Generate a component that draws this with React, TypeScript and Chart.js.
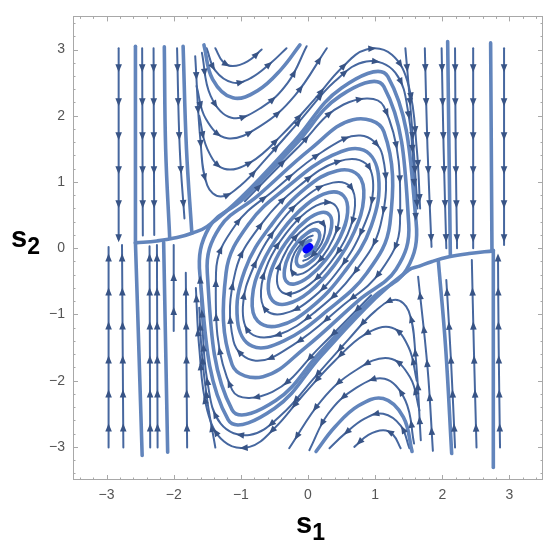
import React, { useEffect, useRef } from 'react';
import { Chart, registerables } from 'chart.js';

Chart.register(...registerables);

type Pt = [number, number];

// ---------- axes ----------
const axisRange: Pt = [-3.5, 3.5];
const xTickValues = [-3, -2, -1, 0, 1, 2, 3];
const yTickValues = [-3, -2, -1, 0, 1, 2, 3];
const fixedPoint: Pt[] = [[0, 0]];

// ---------- streamlines (flow order) ----------
const leftDownThin: Pt[][] = [
  [[-2.82, 3.02], [-2.82, 1.5], [-2.82, 0.14]],
  [[-2.47, 3.02], [-2.465, 1.5], [-2.46, 0.19]],
  [[-2.30, 3.02], [-2.295, 1.5], [-2.29, 0.2]],
  [[-1.95, 3.02], [-1.91, 1.5], [-1.84, 0.45]],
];
const leftDownThick: Pt[][] = [
  [[-2.57, 3.05], [-2.57, 0.08]],
  [[-2.14, 3.04], [-2.12, 1.5], [-2.06, 0.16]],
  [[-1.86, 3.05], [-1.81, 1.5], [-1.73, 0.23]],
];
const leftUpThin: Pt[][] = [
  [[-2.97, -3.01], [-2.97, -1.5], [-2.97, 0.02]],
  [[-2.75, -3.01], [-2.76, -1.5], [-2.77, 0.05]],
  [[-2.35, -3.01], [-2.355, -1.5], [-2.36, 0.03]],
  [[-2.24, -3.01], [-2.245, -1.5], [-2.25, 0.05]],
  [[-2.0, -1.25], [-2.0, 0.05]],
  [[-1.8, -3.01], [-1.81, -1.7], [-1.82, -0.37]],
  [[-1.38, -3.01], [-1.5, -2.3], [-1.58, -1.6], [-1.62, -0.9]],
];
const leftUpThick: Pt[][] = [
  [[-2.47, -3.13], [-2.52, -1.5], [-2.57, 0.08]],
  [[-2.09, -3.08], [-2.12, -1.5], [-2.15, 0.09]],
];
const rightDownThin: Pt[][] = [
  [[1.45, 3.02], [1.52, 2.2], [1.58, 1.4], [1.63, 0.6]],
  [[1.74, 3.02], [1.78, 1.5], [1.84, 0.02]],
  [[1.99, 3.02], [2.02, 1.5], [2.06, 0.0]],
  [[2.19, 3.02], [2.2, 1.5], [2.22, 0.0]],
  [[2.46, 3.02], [2.46, 1.5], [2.46, 0.0]],
  [[2.92, 3.02], [2.92, 1.5], [2.92, 0.05]],
];
const rightDownThick: Pt[][] = [
  [[2.08, 3.12], [2.1, 1.5], [2.12, -0.1]],
  [[2.72, 3.1], [2.74, -0.05]],
];
const rightUpThin: Pt[][] = [
  [[1.86, -3.06], [1.78, -1.8], [1.64, -0.43]],
  [[2.19, -3.01], [2.13, -1.7], [2.06, -0.48]],
  [[2.51, -3.01], [2.47, -1.5], [2.44, -0.18]],
  [[2.86, -3.01], [2.84, -1.5], [2.83, -0.13]],
];
const rightUpThick: Pt[][] = [
  [[2.14, -3.1], [2.05, -1.5], [1.94, -0.18]],
  [[2.76, -3.31], [2.76, -0.03]],
];
const upperUThin: Pt[][] = [
  [[-1.38, 3.02], [-1.27, 2.82], [-1.12, 2.75], [-0.9, 2.82], [-0.69, 3.0]],
  [[-1.51, 3.02], [-1.38, 2.68], [-1.12, 2.5], [-0.85, 2.57], [-0.55, 2.8], [-0.32, 3.02]],
  [[-1.58, 2.95], [-1.45, 2.3], [-1.14, 1.97], [-0.7, 2.12], [-0.3, 2.5], [-0.02, 3.05]],
  [[-1.66, 2.45], [-1.52, 1.95], [-1.2, 1.66], [-0.7, 1.85], [-0.2, 2.3], [0.28, 3.02]],
  [[-1.62, 2.0], [-1.5, 1.5], [-1.25, 1.2], [-0.85, 1.3], [-0.4, 1.7], [0.1, 2.25], [0.5, 2.72], [0.87, 3.0], [1.25, 2.92], [1.5, 2.45], [1.62, 1.5], [1.67, 0.6]],
  [[-1.68, 2.9], [-1.6, 1.6], [-1.5, 0.95], [-1.3, 0.78], [-1.0, 0.95], [-0.6, 1.38], [-0.1, 1.95], [0.4, 2.52], [0.87, 2.82], [1.3, 2.65], [1.5, 2.0], [1.58, 1.0], [1.62, 0.1]],
];
const upperUThick: Pt[][] = [
  [[-1.55, 3.07], [-1.42, 2.55], [-1.12, 2.27], [-0.75, 2.38], [-0.4, 2.7], [-0.12, 3.07]],
];
const lowerUThin: Pt[][] = [
  [[1.38, -3.02], [1.27, -2.82], [1.12, -2.75], [0.9, -2.82], [0.69, -3.0]],
  [[1.51, -3.02], [1.38, -2.68], [1.12, -2.5], [0.85, -2.57], [0.55, -2.8], [0.32, -3.02]],
  [[1.58, -2.95], [1.45, -2.3], [1.14, -1.97], [0.7, -2.12], [0.3, -2.5], [0.02, -3.05]],
  [[1.66, -2.45], [1.52, -1.95], [1.2, -1.66], [0.7, -1.85], [0.2, -2.3], [-0.28, -3.02]],
  [[1.62, -2.0], [1.5, -1.5], [1.25, -1.2], [0.85, -1.3], [0.4, -1.7], [-0.1, -2.25], [-0.5, -2.72], [-0.87, -3.0], [-1.25, -2.92], [-1.5, -2.45], [-1.62, -1.5], [-1.67, -0.6]],
  [[1.68, -2.9], [1.6, -1.6], [1.5, -0.95], [1.3, -0.78], [1.0, -0.95], [0.6, -1.38], [0.1, -1.95], [-0.4, -2.52], [-0.87, -2.82], [-1.3, -2.65], [-1.5, -2.0], [-1.58, -1.0], [-1.62, -0.1]],
];
const lowerUThick: Pt[][] = [
  [[1.55, -3.07], [1.42, -2.55], [1.12, -2.27], [0.75, -2.38], [0.4, -2.7], [0.12, -3.07]],
];
const spiralThick: Pt[][] = [
  [[-2.57, 0.08], [-2.25, 0.11], [-1.95, 0.16], [-1.72, 0.23],
   [-1.50, 0.33], [-1.00, 0.76], [-0.20, 1.62], [0.50, 2.42], [1.19, 2.59], [1.61, 0.40], [1.47, -0.32], [0.97, -0.74], [0.19, -1.56], [-0.48, -2.30], [-1.13, -2.44], [-1.50, -0.37],
   [-1.31, 0.32], [-0.75, 0.79], [0.04, 1.50], [0.67, 1.94], [1.13, 1.76], [1.22, 0.37], [0.88, -0.37], [0.29, -0.94], [-0.36, -1.40], [-0.83, -1.48], [-1.05, -1.09], [-0.94, -0.33],
   [-0.54, 0.36], [-0.03, 0.91], [0.435, 1.17], [0.75, 1.10], [0.83, 0.76], [0.69, 0.25], [0.39, -0.26], [0.02, -0.66], [-0.31, -0.84], [-0.53, -0.79], [-0.59, -0.54], [-0.48, -0.17],
   [-0.26, 0.18], [-0.015, 0.43], [0.20, 0.54], [0.33, 0.49], [0.35, 0.32], [0.28, 0.10], [0.15, -0.10], [0.008, -0.23], [-0.10, -0.28], [-0.165, -0.24], [-0.17, -0.15], [-0.13, -0.05],
   [-0.07, 0.05], [0.0, 0.10], [0.04, 0.12]],
  [[2.76, -0.04], [2.4, -0.08], [2.1, -0.13], [1.85, -0.2], [1.66, -0.27],
   [1.50, -0.33], [1.00, -0.76], [0.20, -1.62], [-0.50, -2.42], [-1.19, -2.59], [-1.61, -0.40], [-1.47, 0.32], [-0.97, 0.74], [-0.19, 1.56], [0.48, 2.30], [1.13, 2.44], [1.50, 0.37],
   [1.31, -0.32], [0.75, -0.79], [-0.04, -1.50], [-0.67, -1.94], [-1.13, -1.76], [-1.22, -0.37], [-0.88, 0.37], [-0.29, 0.94], [0.36, 1.40], [0.83, 1.48], [1.05, 1.09], [0.94, 0.33],
   [0.54, -0.36], [0.03, -0.91], [-0.435, -1.17], [-0.75, -1.10], [-0.83, -0.76], [-0.69, -0.25], [-0.39, 0.26], [-0.02, 0.66], [0.31, 0.84], [0.53, 0.79], [0.59, 0.54], [0.48, 0.17],
   [0.26, -0.18], [0.015, -0.43], [-0.20, -0.54], [-0.33, -0.49], [-0.35, -0.32], [-0.28, -0.10], [-0.15, 0.10], [-0.008, 0.23], [0.10, 0.28], [0.165, 0.24], [0.17, 0.15], [0.13, 0.05],
   [0.07, -0.05], [0.0, -0.10], [-0.04, -0.12]],
];
const spiralThin: Pt[][] = [
  [[-0.94, 0.71], [-0.18, 1.49], [0.53, 2.17], [1.13, 2.14], [1.37, 0.37], [1.08, -0.35], [0.50, -0.88], [-0.22, -1.46], [-0.78, -1.70], [-1.11, -1.40], [-1.08, -0.35], [-0.69, 0.37],
   [-0.12, 0.95], [0.45, 1.31], [0.86, 1.28], [0.97, 0.88], [0.815, 0.295], [0.47, -0.31], [0.03, -0.78], [-0.37, -0.99], [-0.63, -0.93], [-0.70, -0.64], [-0.59, -0.21], [-0.33, 0.22],
   [-0.02, 0.55], [0.26, 0.69], [0.42, 0.63], [0.46, 0.42], [0.375, 0.14], [0.21, -0.14], [0.01, -0.33], [-0.15, -0.40], [-0.24, -0.35], [-0.25, -0.23], [-0.20, -0.07], [-0.10, 0.07],
   [-0.005, 0.16], [0.07, 0.19]],
  [[0.94, -0.71], [0.18, -1.49], [-0.53, -2.17], [-1.13, -2.14], [-1.37, -0.37], [-1.08, 0.35], [-0.50, 0.88], [0.22, 1.46], [0.78, 1.70], [1.11, 1.40], [1.08, 0.35], [0.69, -0.37],
   [0.12, -0.95], [-0.45, -1.31], [-0.86, -1.28], [-0.97, -0.88], [-0.815, -0.295], [-0.47, 0.31], [-0.03, 0.78], [0.37, 0.99], [0.63, 0.93], [0.70, 0.64], [0.59, 0.21], [0.33, -0.22],
   [0.02, -0.55], [-0.26, -0.69], [-0.42, -0.63], [-0.46, -0.42], [-0.375, -0.14], [-0.21, 0.14], [-0.01, 0.33], [0.15, 0.40], [0.24, 0.35], [0.25, 0.23], [0.20, 0.07], [0.10, -0.07],
   [0.005, -0.16], [-0.07, -0.19]],
];

// ---------- styles ----------
const THIN_COLOR = '#46679f';
const THICK_COLOR = '#6285bc';
const ARROW_COLOR = '#385486';
const FRAME_COLOR = '#a8a8a8';
const TICK_LABEL_COLOR = '#555555';

function makeDataset(stream: Pt[], thick: boolean) {
  return {
    data: stream.map(([x, y]) => ({ x, y })),
    borderColor: thick ? THICK_COLOR : THIN_COLOR,
    borderWidth: thick ? 3.6 : 2,
    pointRadius: 0,
    pointHoverRadius: 0,
    pointHitRadius: 0,
    tension: 0.4,
    fill: false,
    borderCapStyle: 'round',
    borderJoinStyle: 'round',
    showLine: true,
    arrows: !thick,
  } as any;
}

function drawArrow(ctx: CanvasRenderingContext2D, x: number, y: number, dx: number, dy: number) {
  const L = 8;
  const W = 3.3;
  const tx = x + (dx * L) / 2;
  const ty = y + (dy * L) / 2;
  const bx = x - (dx * L) / 2;
  const by = y - (dy * L) / 2;
  ctx.beginPath();
  ctx.moveTo(tx, ty);
  ctx.lineTo(bx - dy * W, by + dx * W);
  ctx.lineTo(bx + dy * W, by - dx * W);
  ctx.closePath();
  ctx.fill();
}

const arrowPlugin = {
  id: 'streamArrows',
  afterDatasetsDraw(chart: any) {
    const ctx: CanvasRenderingContext2D = chart.ctx;
    ctx.save();
    ctx.fillStyle = ARROW_COLOR;
    chart.data.datasets.forEach((ds: any, i: number) => {
      if (!ds.arrows) return;
      const pts = chart.getDatasetMeta(i).data as any[];
      if (pts.length < 2) return;
      const samples: Pt[] = [[pts[0].x, pts[0].y]];
      for (let k = 0; k < pts.length - 1; k++) {
        const a = pts[k];
        const b = pts[k + 1];
        const c1x = a.cp2x ?? a.x, c1y = a.cp2y ?? a.y;
        const c2x = b.cp1x ?? b.x, c2y = b.cp1y ?? b.y;
        for (let t = 1; t <= 16; t++) {
          const u = t / 16, v = 1 - u;
          samples.push([
            v * v * v * a.x + 3 * v * v * u * c1x + 3 * v * u * u * c2x + u * u * u * b.x,
            v * v * v * a.y + 3 * v * v * u * c1y + 3 * v * u * u * c2y + u * u * u * b.y,
          ]);
        }
      }
      const spacing = 34;
      let next = 20;
      let acc = 0;
      for (let k = 1; k < samples.length; k++) {
        const [x0, y0] = samples[k - 1];
        const [x1, y1] = samples[k];
        const seg = Math.hypot(x1 - x0, y1 - y0);
        if (seg === 0) continue;
        while (acc + seg >= next) {
          const f = (next - acc) / seg;
          drawArrow(ctx, x0 + (x1 - x0) * f, y0 + (y1 - y0) * f, (x1 - x0) / seg, (y1 - y0) / seg);
          next += spacing;
        }
        acc += seg;
      }
    });
    ctx.restore();
  },
};

const framePlugin = {
  id: 'frameTicks',
  beforeDatasetsDraw(chart: any) {
    const { ctx, chartArea: a, scales } = chart;
    const xs = scales.x;
    const ys = scales.y;
    ctx.save();
    ctx.strokeStyle = FRAME_COLOR;
    ctx.lineWidth = 1;
    ctx.strokeRect(Math.round(a.left) + 0.5, Math.round(a.top) + 0.5, Math.round(a.right - a.left) - 1, Math.round(a.bottom - a.top) - 1);
    ctx.beginPath();
    for (let i = -17; i <= 17; i++) {
      const v = i / 5;
      const major = i % 5 === 0;
      const len = major ? 5 : 2.5;
      const px = Math.round(xs.getPixelForValue(v)) + 0.5;
      ctx.moveTo(px, a.bottom);
      ctx.lineTo(px, a.bottom - len);
      ctx.moveTo(px, a.top);
      ctx.lineTo(px, a.top + len);
      const py = Math.round(ys.getPixelForValue(v)) + 0.5;
      ctx.moveTo(a.left, py);
      ctx.lineTo(a.left + len, py);
      ctx.moveTo(a.right, py);
      ctx.lineTo(a.right - len, py);
    }
    ctx.stroke();
    ctx.restore();
  },
};

const fmt = (v: number) => (v < 0 ? '\u2212' + Math.abs(v) : String(v));

export default function App() {
  const canvasRef = useRef<HTMLCanvasElement | null>(null);

  useEffect(() => {
    if (!canvasRef.current) return;
    const datasets: any[] = [];
    const groups: [Pt[][], boolean][] = [
      [leftDownThick, true], [leftUpThick, true], [rightDownThick, true], [rightUpThick, true],
      [upperUThick, true], [lowerUThick, true], [spiralThick, true],
      [leftDownThin, false], [leftUpThin, false], [rightDownThin, false], [rightUpThin, false],
      [upperUThin, false], [lowerUThin, false], [spiralThin, false],
    ];
    groups.forEach(([g, thick]) => g.forEach((s) => datasets.push(makeDataset(s, thick))));
    datasets.push({
      data: fixedPoint.map(([x, y]) => ({ x, y })),
      showLine: false,
      pointRadius: 6,
      pointHoverRadius: 6,
      pointBackgroundColor: '#0000ff',
      pointBorderWidth: 0,
      borderWidth: 0,
    });

    const chart = new Chart(canvasRef.current, {
      type: 'line',
      data: { datasets },
      options: {
        responsive: false,
        animation: false,
        devicePixelRatio: 1,
        events: [],
        layout: { padding: { top: 9, right: 7, left: 0, bottom: 0 } },
        plugins: { legend: { display: false }, tooltip: { enabled: false }, title: { display: false } },
        scales: {
          x: {
            type: 'linear',
            min: axisRange[0],
            max: axisRange[1],
            grid: { display: false, drawTicks: false },
            border: { display: false },
            afterFit: (s: any) => { s.height = 71; },
            afterBuildTicks: (s: any) => { s.ticks = xTickValues.map((value) => ({ value })); },
            ticks: {
              autoSkip: false,
              maxRotation: 0,
              padding: 7,
              color: TICK_LABEL_COLOR,
              font: { family: "'Liberation Sans', Arial, sans-serif", size: 14 },
              callback: (v: any) => fmt(Number(v)),
            },
          },
          y: {
            type: 'linear',
            min: axisRange[0],
            max: axisRange[1],
            grid: { display: false, drawTicks: false },
            border: { display: false },
            afterFit: (s: any) => { s.width = 73; },
            afterBuildTicks: (s: any) => { s.ticks = yTickValues.map((value) => ({ value })); },
            ticks: {
              autoSkip: false,
              padding: 8,
              color: TICK_LABEL_COLOR,
              font: { family: "'Liberation Sans', Arial, sans-serif", size: 14 },
              callback: (v: any) => fmt(Number(v)),
            },
          },
        },
      },
      plugins: [framePlugin, arrowPlugin],
    });
    return () => chart.destroy();
  }, []);

  const labelFont = "'Liberation Sans', Arial, sans-serif";
  return (
    <div style={{ position: 'absolute', left: 0, top: 0, width: 550, height: 551, background: '#fff' }}>
      <canvas ref={canvasRef} width={550} height={551} style={{ position: 'absolute', left: 0, top: 0, width: 550, height: 551 }} />
      <div style={{ position: 'absolute', left: 11, top: 223, font: `bold 29px ${labelFont}`, lineHeight: 1, color: '#000', whiteSpace: 'nowrap' }}>
        s<span style={{ fontSize: 23, position: 'relative', top: 7 }}>2</span>
      </div>
      <div style={{ position: 'absolute', left: 296, top: 509, font: `bold 29px ${labelFont}`, lineHeight: 1, color: '#000', whiteSpace: 'nowrap' }}>
        s<span style={{ fontSize: 23, position: 'relative', top: 7 }}>1</span>
      </div>
    </div>
  );
}
